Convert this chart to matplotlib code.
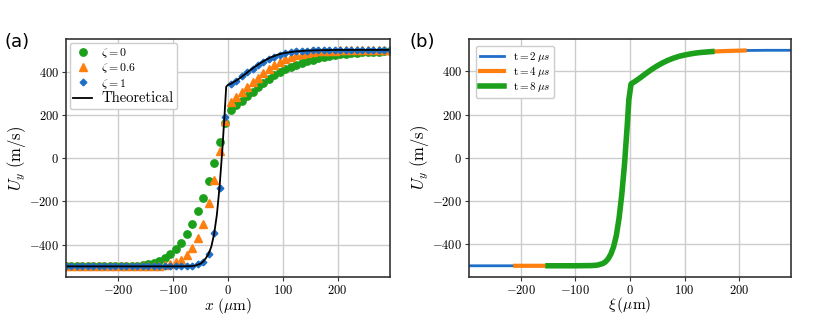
import numpy as np
import matplotlib
matplotlib.use("Agg")
import matplotlib.pyplot as plt

plt.rcParams["mathtext.fontset"] = "cm"
plt.rcParams["font.family"] = "serif"
plt.rcParams["font.serif"] = ["cmr10", "DejaVu Serif"]
plt.rcParams["axes.formatter.use_mathtext"] = True
plt.rcParams["axes.unicode_minus"] = True

# ---------------------------------------------------------------------
# Data (a): velocity profiles, sampled every 10 um
# ---------------------------------------------------------------------
x_pts = [-295, -285, -275, -265, -255, -245, -235, -225, -215, -205,
         -195, -185, -175, -165, -155, -145, -135, -125, -115, -105,
         -95, -85, -75, -65, -55, -45, -35, -25, -15, -5,
         5, 15, 25, 35, 45, 55, 65, 75, 85, 95,
         105, 115, 125, 135, 145, 155, 165, 175, 185, 195,
         205, 215, 225, 235, 245, 255, 265, 275, 285, 295]

u_zeta0 = [-500] * 12 + [
    -499, -497, -494, -490, -483, -476, -462, -445,
    -420, -394, -352, -306, -245, -182, -105, -23, 75, 164,
    224, 244, 262, 285, 306, 327, 348, 366, 382, 397,
    410, 421, 431, 440, 448, 455, 462, 467, 472, 476,
    479, 482, 485, 487, 489, 490, 491, 492, 493, 493]

u_zeta06 = [-500] * 15 + [
    -499, -498, -496, -493, -488,
    -481, -470, -448, -416, -367, -303, -208, -100, 35, 171,
    259, 282, 305, 328, 350, 370, 392, 410, 430, 445,
    458, 468, 476, 482, 487, 490, 493, 495, 496, 497] + [498] * 10

u_zeta1 = [-500] * 23 + [
    -497, -491, -480, -445, -347, -136, 191,
    342, 357, 378, 396, 414, 430, 445, 458, 469, 478,
    484, 489, 493, 495, 497, 498, 499] + [500] * 13

x_theo = [-295, -150, -100, -80, -70, -60, -50, -45, -40, -35, -30, -25,
          -20, -15, -10, -6, -3, 0, 5, 10, 20, 30, 40, 50, 60, 70, 80,
          90, 100, 120, 140, 160, 200, 250, 295]
u_theo = [-500, -500, -500, -500, -499, -497, -488, -478, -462, -442, -408,
          -350, -262, -130, 40, 200, 330, 338, 343, 350, 366, 385, 405, 423,
          440, 455, 467, 477, 484, 492, 496, 498, 500, 500, 500]

# ---------------------------------------------------------------------
# Data (b): profiles in the moving frame
# ---------------------------------------------------------------------
xi_t2 = [-295, -200, -150, -100, -70, -60, -50, -45, -40, -35, -30, -25, -20,
         -15, -10, -5, -2, 2, 10, 20, 30, 40, 50, 60, 70, 80, 90, 100, 110,
         120, 130, 140, 150, 180, 210, 250, 295]
u_t2 = [-500, -500, -500, -500, -499, -497, -490, -482, -468, -446, -412,
        -360, -280, -170, -30, 150, 270, 342, 355, 373, 392, 410, 426, 440,
        452, 462, 470, 476, 481, 485, 488, 490, 492, 495, 497, 498, 498]

xi_t4 = [-210, -150, -100, -70, -60, -50, -45, -40, -35, -30, -25, -20,
         -15, -10, -5, -2, 2, 10, 20, 30, 40, 50, 60, 70, 80, 90, 100, 110,
         120, 130, 140, 150, 180, 210]
u_t4 = [-500, -500, -500, -499, -497, -490, -482, -468, -446, -412,
        -360, -280, -170, -30, 150, 270, 342, 355, 373, 392, 410, 426, 440,
        452, 462, 470, 476, 481, 485, 488, 490, 492, 495, 497]

xi_t8 = [-150, -100, -70, -60, -50, -45, -40, -35, -30, -25, -20,
         -15, -10, -5, -2, 2, 10, 20, 30, 40, 50, 60, 70, 80, 90, 100, 110,
         120, 130, 140, 150]
u_t8 = [-500, -500, -499, -497, -490, -482, -468, -446, -412,
        -360, -280, -170, -30, 150, 270, 342, 355, 373, 392, 410, 426, 440,
        452, 462, 470, 476, 481, 485, 488, 490, 492]

C_BLUE = "#1f6fc8"
C_ORANGE = "#ff7f0e"
C_GREEN = "#1ca01c"

fig = plt.figure(figsize=(8.3, 3.15), dpi=100)
ax1 = fig.add_axes([0.0795, 0.12, 0.390, 0.756])
ax2 = fig.add_axes([0.565, 0.122, 0.388, 0.754])


def style_axes(ax):
    ax.grid(True, color="#cccccc", linewidth=1.0)
    ax.set_axisbelow(True)
    for sp in ax.spines.values():
        sp.set_color("#333333")
        sp.set_linewidth(1.2)
    ax.tick_params(labelsize=9, length=3, pad=2, color="#333333")
    ax.set_xlim(-295, 295)
    ax.set_ylim(-550, 550)
    ax.set_xticks([-200, -100, 0, 100, 200])
    ax.set_yticks([-400, -200, 0, 200, 400])


# --------------------------------------------------
# (a)
# --------------------------------------------------
ax1.plot(x_pts, u_zeta0, "o", color=C_GREEN, ms=5.3, label=r"$\zeta = 0$")
ax1.plot(x_pts, u_zeta06, "^", color=C_ORANGE, ms=5.3, label=r"$\zeta = 0.6$")
ax1.plot(x_pts, u_zeta1, "D", color=C_BLUE, ms=3.4, label=r"$\zeta = 1$")
ax1.plot(x_theo, u_theo, "-", color="black", lw=1.3, label="Theoretical")
style_axes(ax1)
ax1.set_xlabel(r"$x\ (\mu\mathrm{m})$", fontsize=11, labelpad=-1)
ax1.set_ylabel(r"$U_y\ (\mathrm{m/s})$", fontsize=12, labelpad=1)
leg1 = ax1.legend(loc="upper left", fontsize=8.5, handlelength=1.6,
                  borderaxespad=0.3, labelspacing=0.1, borderpad=0.3,
                  framealpha=1, edgecolor="#cccccc")
leg1.get_texts()[3].set_fontsize(10.5)

# --------------------------------------------------
# (b)
# --------------------------------------------------
ax2.plot(xi_t2, u_t2, color=C_BLUE, lw=2, label=r"$\mathrm{t} = 2\,\mu s$")
ax2.plot(xi_t4, u_t4, color=C_ORANGE, lw=3, label=r"$\mathrm{t} = 4\,\mu s$")
ax2.plot(xi_t8, u_t8, color=C_GREEN, lw=4, label=r"$\mathrm{t} = 8\,\mu s$")
style_axes(ax2)
ax2.set_xlabel(r"$\xi\,(\mu\mathrm{m})$", fontsize=11, labelpad=-1)
ax2.set_ylabel(r"$U_y\ (\mathrm{m/s})$", fontsize=12, labelpad=1)
ax2.legend(loc="upper left", fontsize=8, handlelength=2.2,
           borderaxespad=0.6, labelspacing=0.12, borderpad=0.35,
           framealpha=1, edgecolor="#cccccc")

fig.text(0.006, 0.85, "(a)", fontsize=13, family="DejaVu Sans")
fig.text(0.493, 0.85, "(b)", fontsize=13, family="DejaVu Sans")

fig.savefig("out.png", dpi=100)
